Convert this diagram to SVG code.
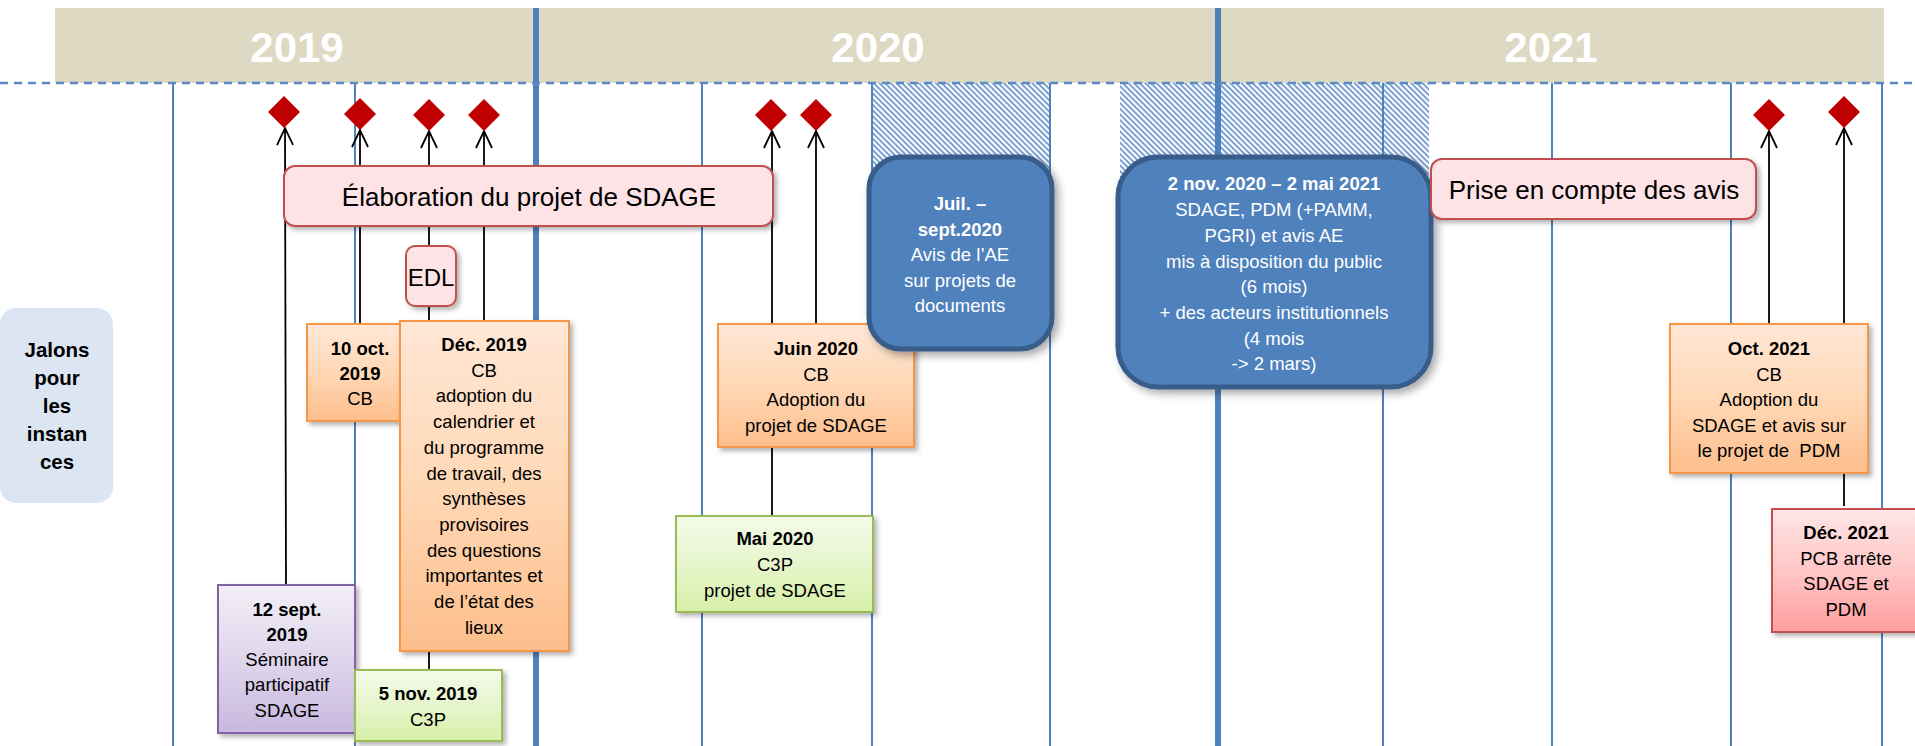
<svg xmlns="http://www.w3.org/2000/svg" width="1915" height="746" viewBox="0 0 1915 746">
<defs>
<style>
text{font-family:"Liberation Sans",Arial,sans-serif;}
.yr{font-size:42px;font-weight:bold;fill:#fff;text-anchor:middle}
.t{font-size:18.5px;fill:#000;text-anchor:middle}
.tw{font-size:18.5px;fill:#fff;text-anchor:middle}
.b{font-weight:bold}
.big{font-size:26px;fill:#000;text-anchor:middle}
.jal{font-size:20.5px;font-weight:bold;fill:#000;text-anchor:middle}
.vl{stroke:#4F81BD;stroke-width:2}
.vt{stroke:#4F81BD;stroke-width:6}
.arr{stroke:#000;stroke-width:1.8;fill:none;marker-end:url(#open)}
.dia{fill:#C00000}
.or{fill:url(#gOr);stroke:#F79646;stroke-width:2;filter:url(#sh)}
.gr{fill:url(#gGr);stroke:#9BBB59;stroke-width:2;filter:url(#sh)}
.pu{fill:url(#gPu);stroke:#8064A2;stroke-width:2;filter:url(#sh)}
.rd{fill:url(#gRd);stroke:#C0504D;stroke-width:2;filter:url(#sh)}
.pk{fill:#FDE3E5;stroke:#C0504D;stroke-width:2;filter:url(#sh)}
.bl{fill:#4F81BD;stroke:#385D8A;stroke-width:5;filter:url(#shb)}
</style>
<linearGradient id="gOr" x1="0" y1="0" x2="0" y2="1"><stop offset="0" stop-color="#FFE7D6"/><stop offset="0.5" stop-color="#FFD8B6"/><stop offset="1" stop-color="#FDBE8C"/></linearGradient>
<linearGradient id="gGr" x1="0" y1="0" x2="0" y2="1"><stop offset="0" stop-color="#F4FAE9"/><stop offset="0.5" stop-color="#E6F5CC"/><stop offset="1" stop-color="#D6EFA8"/></linearGradient>
<linearGradient id="gPu" x1="0" y1="0" x2="0" y2="1"><stop offset="0" stop-color="#F2EEF7"/><stop offset="0.5" stop-color="#DFD6EC"/><stop offset="1" stop-color="#C8B8DF"/></linearGradient>
<linearGradient id="gRd" x1="0" y1="0" x2="0" y2="1"><stop offset="0" stop-color="#FFE6E6"/><stop offset="0.5" stop-color="#FFC6C6"/><stop offset="1" stop-color="#FF9E9E"/></linearGradient>
<pattern id="hatch" patternUnits="userSpaceOnUse" width="4" height="4" patternTransform="rotate(45)">
<rect width="4" height="4" fill="#fff"/>
<rect width="4" height="1.8" fill="#6F98D0"/>
</pattern>
<filter id="sh" x="-10%" y="-10%" width="130%" height="130%"><feDropShadow dx="3" dy="3" stdDeviation="2.5" flood-color="#000" flood-opacity="0.3"/></filter>
<filter id="shb" x="-10%" y="-10%" width="130%" height="130%"><feDropShadow dx="4" dy="4" stdDeviation="4" flood-color="#000" flood-opacity="0.35"/></filter>
<marker id="open" viewBox="-18 -10 20 20" refX="0" refY="0" markerWidth="20" markerHeight="20" markerUnits="userSpaceOnUse" orient="auto" overflow="visible">
<path d="M-17,-8 L0,0 L-17,8" fill="none" stroke="#000" stroke-width="1.8"/>
</marker>
</defs>

<rect width="1915" height="746" fill="#fff"/>

<g id="header">
<rect x="55" y="8" width="1829" height="75" fill="#DDD9C3"/>
<text class="yr" x="297" y="62">2019</text>
<text class="yr" x="878" y="62">2020</text>
<text class="yr" x="1551" y="62">2021</text>
</g>

<g id="grid">
<rect x="872" y="83" width="178" height="120" fill="url(#hatch)"/>
<rect x="1120" y="83" width="309" height="120" fill="url(#hatch)"/>
<line class="vl" x1="173" y1="83" x2="173" y2="746"/>
<line class="vl" x1="355" y1="83" x2="355" y2="746"/>
<line class="vl" x1="702" y1="83" x2="702" y2="746"/>
<line class="vl" x1="872" y1="83" x2="872" y2="746"/>
<line class="vl" x1="1050" y1="83" x2="1050" y2="746"/>
<line class="vl" x1="1383" y1="83" x2="1383" y2="746"/>
<line class="vl" x1="1552" y1="83" x2="1552" y2="746"/>
<line class="vl" x1="1731" y1="83" x2="1731" y2="746"/>
<line class="vl" x1="1882" y1="83" x2="1882" y2="746"/>
<line class="vt" x1="536" y1="8" x2="536" y2="746"/>
<line class="vt" x1="1218" y1="8" x2="1218" y2="746"/>
<line x1="0" y1="83" x2="1915" y2="83" stroke="#5B8AC4" stroke-width="2.5" stroke-dasharray="8,6"/>
</g>

<g id="connectors">
<line class="arr" x1="286" y1="585" x2="285" y2="128"/>
<line class="arr" x1="360" y1="324" x2="360" y2="130"/>
<line class="arr" x1="429" y1="670" x2="429" y2="131"/>
<line class="arr" x1="484" y1="321" x2="484" y2="131"/>
<line class="arr" x1="772" y1="516" x2="772" y2="131"/>
<line class="arr" x1="816" y1="324" x2="816" y2="131"/>
<line class="arr" x1="1769" y1="324" x2="1769" y2="131"/>
<line class="arr" x1="1844" y1="506" x2="1844" y2="128"/>
</g>

<g id="milestones">
<polygon class="dia" points="284,96 300,112 284,128 268,112"/>
<polygon class="dia" points="360,98 376,114 360,130 344,114"/>
<polygon class="dia" points="429,99 445,115 429,131 413,115"/>
<polygon class="dia" points="484,99 500,115 484,131 468,115"/>
<polygon class="dia" points="771,99 787,115 771,131 755,115"/>
<polygon class="dia" points="816,99 832,115 816,131 800,115"/>
<polygon class="dia" points="1769,99 1785,115 1769,131 1753,115"/>
<polygon class="dia" points="1844,96 1860,112 1844,128 1828,112"/>
</g>

<g id="jalons">
<rect x="0" y="308" width="113" height="195" rx="16" fill="#DCE6F2"/>
<text class="jal"><tspan x="57" y="357">Jalons</tspan><tspan x="57" y="385">pour</tspan><tspan x="57" y="413">les</tspan><tspan x="57" y="441">instan</tspan><tspan x="57" y="469">ces</tspan></text>
</g>

<g id="elaboration">
<rect class="pk" x="284" y="166" width="489" height="60" rx="11"/>
<text class="big" x="529" y="206">Élaboration du projet de SDAGE</text>
</g>

<g id="edl">
<rect class="pk" x="406" y="246" width="50" height="60" rx="9"/>
<text class="big" x="431" y="286" style="font-size:24px">EDL</text>
</g>

<g id="oct2019">
<rect class="or" x="307" y="324" width="106" height="97"/>
<text class="t"><tspan class="b" x="360" y="355">10 oct.</tspan><tspan class="b" x="360" y="380">2019</tspan><tspan x="360" y="405">CB</tspan></text>
</g>

<g id="dec2019">
<rect class="or" x="400" y="321" width="169" height="330"/>
<text class="t"><tspan class="b" x="484" y="351">Déc. 2019</tspan><tspan x="484" y="376.7">CB</tspan><tspan x="484" y="402.4">adoption du</tspan><tspan x="484" y="428.1">calendrier et</tspan><tspan x="484" y="453.8">du programme</tspan><tspan x="484" y="479.5">de travail, des</tspan><tspan x="484" y="505.2">synthèses</tspan><tspan x="484" y="530.9">provisoires</tspan><tspan x="484" y="556.6">des questions</tspan><tspan x="484" y="582.3">importantes et</tspan><tspan x="484" y="608">de l’état des</tspan><tspan x="484" y="633.7">lieux</tspan></text>
</g>

<g id="sept2019">
<rect class="pu" x="218" y="585" width="137" height="148"/>
<text class="t"><tspan class="b" x="287" y="616">12 sept.</tspan><tspan class="b" x="287" y="641">2019</tspan><tspan x="287" y="666">Séminaire</tspan><tspan x="287" y="691">participatif</tspan><tspan x="287" y="717">SDAGE</tspan></text>
</g>

<g id="nov2019">
<rect class="gr" x="355" y="670" width="147" height="71"/>
<text class="t"><tspan class="b" x="428" y="700">5 nov. 2019</tspan><tspan x="428" y="726">C3P</tspan></text>
</g>

<g id="juin2020">
<rect class="or" x="718" y="324" width="196" height="123"/>
<text class="t"><tspan class="b" x="816" y="355">Juin 2020</tspan><tspan x="816" y="380.5">CB</tspan><tspan x="816" y="406">Adoption du</tspan><tspan x="816" y="431.5">projet de SDAGE</tspan></text>
</g>

<g id="mai2020">
<rect class="gr" x="676" y="516" width="197" height="96"/>
<text class="t"><tspan class="b" x="775" y="545">Mai 2020</tspan><tspan x="775" y="571">C3P</tspan><tspan x="775" y="597">projet de SDAGE</tspan></text>
</g>

<g id="avisAE">
<rect class="bl" x="869" y="157" width="183" height="192" rx="32"/>
<text class="tw"><tspan class="b" x="960" y="210">Juil. –</tspan><tspan class="b" x="960" y="235.5">sept.2020</tspan><tspan x="960" y="261">Avis de l’AE</tspan><tspan x="960" y="286.5">sur projets de</tspan><tspan x="960" y="312">documents</tspan></text>
</g>

<g id="consultation">
<rect class="bl" x="1118" y="157" width="313" height="230" rx="40"/>
<text class="tw"><tspan class="b" x="1274" y="190">2 nov. 2020 – 2 mai 2021</tspan><tspan x="1274" y="216">SDAGE, PDM (+PAMM,</tspan><tspan x="1274" y="242">PGRI) et avis AE</tspan><tspan x="1274" y="268">mis à disposition du public</tspan><tspan x="1274" y="293">(6 mois)</tspan><tspan x="1274" y="319">+ des acteurs institutionnels</tspan><tspan x="1274" y="345">(4 mois</tspan><tspan x="1274" y="370">-&gt; 2 mars)</tspan></text>
</g>

<g id="prise">
<rect class="pk" x="1431" y="159" width="325" height="60" rx="11"/>
<text class="big" x="1594" y="199">Prise en compte des avis</text>
</g>

<g id="oct2021">
<rect class="or" x="1670" y="324" width="198" height="149"/>
<text class="t"><tspan class="b" x="1769" y="355">Oct. 2021</tspan><tspan x="1769" y="380.5">CB</tspan><tspan x="1769" y="406">Adoption du</tspan><tspan x="1769" y="431.5">SDAGE et avis sur</tspan><tspan x="1769" y="457" xml:space="preserve">le projet de  PDM</tspan></text>
</g>

<g id="dec2021">
<rect class="rd" x="1772" y="509" width="160" height="123"/>
<text class="t"><tspan class="b" x="1846" y="539">Déc. 2021</tspan><tspan x="1846" y="564.5">PCB arrête</tspan><tspan x="1846" y="590">SDAGE et</tspan><tspan x="1846" y="615.5">PDM</tspan></text>
</g>
</svg>
